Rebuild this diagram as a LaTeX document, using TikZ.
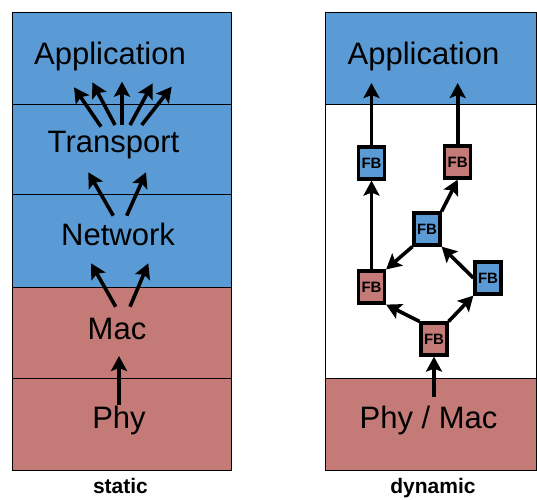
\documentclass[tikz,border=0pt]{standalone}
\usepackage{fontspec}
\setmainfont{Liberation Sans}
\usetikzlibrary{arrows.meta}
\definecolor{lblue}{RGB}{91,155,213}
\definecolor{lred}{RGB}{196,122,118}
\begin{document}
\begin{tikzpicture}[x=1pt,y=-1pt,
  arr/.style={line width=3.6pt, -{Stealth[length=15pt,width=16pt,inset=3pt]}},
  big/.style={font=\fontsize{31}{31}\selectfont, anchor=base, inner sep=0pt},
  captxt/.style={font=\bfseries\fontsize{21}{21}\selectfont, anchor=base, inner sep=0pt},
  fb/.style={draw, line width=3.2pt, minimum width=26pt, minimum height=32pt, inner sep=0pt, font=\bfseries\fontsize{15}{15}\selectfont},
  layer/.style={draw, line width=1pt}]
\useasboundingbox (0,0) rectangle (537,499);
% left stack
\draw[layer, fill=lblue] (12,12) rectangle (231,104);
\draw[layer, fill=lblue] (12,104) rectangle (231,194);
\draw[layer, fill=lblue] (12,194) rectangle (231,287);
\draw[layer, fill=lred] (12,287) rectangle (231,378);
\draw[layer, fill=lred] (12,378) rectangle (231,470);
\node[big] (tapp) at (110,64) {Application};
\node[big] (ttra) at (113.5,152) {Transport};
\node[big] (tnet) at (118,245) {Network};
\node[big] (tmac) at (117,339) {Mac};
\node[big] (tphy) at (119,428) {Phy};
% right stack
\draw[layer, fill=white] (325,12) rectangle (536,470);
\draw[layer, fill=lblue] (325,12) rectangle (536,104);
\draw[layer, fill=lred] (325,378) rectangle (536,470);
\node[big] (rapp) at (423.5,64) {Application};
\node[big] (rphy) at (428.5,428) {Phy / Mac};
% captions
\node[captxt] (cs) at (120.5,493) {static};
\node[captxt] (cd) at (433,493) {dynamic};
% left arrows
\coordinate (s1) at (101,126.7); \coordinate (e1) at (74,87.3);
\coordinate (s2) at (115,125);   \coordinate (e2) at (92.3,82.3);
\coordinate (s3) at (122,125);   \coordinate (e3) at (122,81.7);
\coordinate (s4) at (130,125);   \coordinate (e4) at (152.7,83.3);
\coordinate (s5) at (141.7,125); \coordinate (e5) at (171.7,86.7);
\foreach \i in {1,...,5} {\draw[arr] (s\i) -- (e\i);}
\coordinate (n1) at (113.3,215.7); \coordinate (m1) at (88.3,172.3);
\coordinate (n2) at (126.7,215.7); \coordinate (m2) at (146,172.3);
\draw[arr] (n1) -- (m1);
\draw[arr] (n2) -- (m2);
\coordinate (k1) at (115.7,306.7); \coordinate (j1) at (91,263.3);
\coordinate (k2) at (130,306.7);   \coordinate (j2) at (148.3,263.3);
\draw[arr] (k1) -- (j1);
\draw[arr] (k2) -- (j2);
\coordinate (p1) at (119,405); \coordinate (p2) at (119,356);
\draw[arr] (p1) -- (p2);
% function blocks
\node[fb, fill=lblue] (f1) at (371.5,163) {FB};
\node[fb, fill=lred]  (f2) at (457.7,162) {FB};
\node[fb, fill=lblue] (f3) at (427,229) {FB};
\node[fb, fill=lred]  (f4) at (371.5,287) {FB};
\node[fb, fill=lblue] (f5) at (488,278) {FB};
\node[fb, fill=lred]  (f6) at (434,339) {FB};
\coordinate (src) at (434,397);
\coordinate (a1) at (371.5,83);
\coordinate (a2) at (457.7,83);
\draw[arr] (src) -- (f6.south);
\draw[arr] (f6.north west) -- (f4.south east);
\draw[arr] (f6.north east) -- (f5.south west);
\draw[arr] (f5.west) -- (f3.south east);
\draw[arr] (f3.south west) -- (f4.north east);
\draw[arr] (f3.north east) -- (f2.south);
\draw[arr] (f4.north) -- (f1.south);
\draw[arr] (f1.north) -- (a1);
\draw[arr] (f2.north) -- (a2);
\end{tikzpicture}
\end{document}
